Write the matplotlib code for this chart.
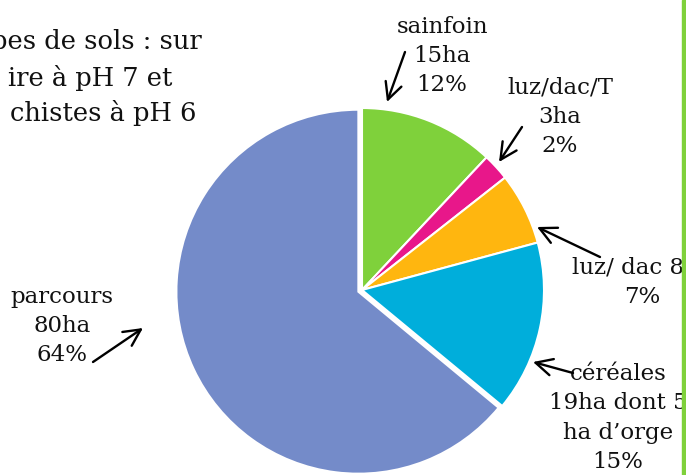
import matplotlib
matplotlib.use('Agg')
import matplotlib.pyplot as plt

# Data
categories = ['sainfoin', 'luz/dac/T', 'luz/ dac', 'céréales', 'parcours']
hectares = [15, 3, 8, 19, 80]
percents = ['12%', '2%', '7%', '15%', '64%']
label_texts = [
    'sainfoin\n15ha\n12%',
    'luz/dac/T\n3ha\n2%',
    'luz/ dac 8ha\n7%',
    'céréales\n19ha dont 5\nha d\u2019orge\n15%',
    'parcours\n80ha\n64%',
]
colors = ['#7fd13b', '#e8178a', '#ffb60f', '#00aedb', '#748bc9']

W, H = 686, 475
fig = plt.figure(figsize=(W / 100, H / 100), dpi=100)
ax = fig.add_axes([0, 0, 1, 1])

# pie in pixel units (y flipped so the picture reads top-down)
cx, cy, r = 362, H - 290, 182
ax.pie(hectares, colors=colors, startangle=90, counterclock=False,
       center=(cx, cy), radius=r, explode=[0, 0, 0, 0, 4],
       wedgeprops=dict(edgecolor='white', linewidth=1.5))
ax.set_xlim(0, W)
ax.set_ylim(0, H)
ax.set_aspect('equal')
ax.axis('off')

font = dict(family='DejaVu Serif', color='#111111')

# label text centre (x, y) and arrow (start -> tip), in image pixels
label_pos = [(442, 56), (560, 117), (642, 282), (618, 418), (62, 326)]
arrows = [((405, 52), (387, 102)),
          ((522, 127), (499, 162)),
          ((600, 257), (537, 227)),
          ((573, 373), (533, 362)),
          ((93, 362), (143, 328))]

for txt, (x, y) in zip(label_texts, label_pos):
    ax.text(x, H - y, txt, ha='center', va='center', fontsize=16.5,
            linespacing=1.42, **font)

for (x0, y0), (x1, y1) in arrows:
    ax.annotate('', xy=(x1, H - y1), xytext=(x0, H - y0),
                arrowprops=dict(arrowstyle='->', lw=1.7, color='black',
                                mutation_scale=30, shrinkA=0, shrinkB=0))

# cropped text block top left
title_lines = ['pes de sols : sur', 'ire à pH 7 et', 'chistes à pH 6']
title_right = [202, 172, 197]
title_y = [42, 78, 113]
for s, xr, y in zip(title_lines, title_right, title_y):
    ax.text(xr, H - y, s, ha='right', va='center', fontsize=18.5, **font)

# green border on the right edge
ax.axvspan(682, W, color='#7fd13b', zorder=10)

fig.savefig('out.png', dpi=100)
